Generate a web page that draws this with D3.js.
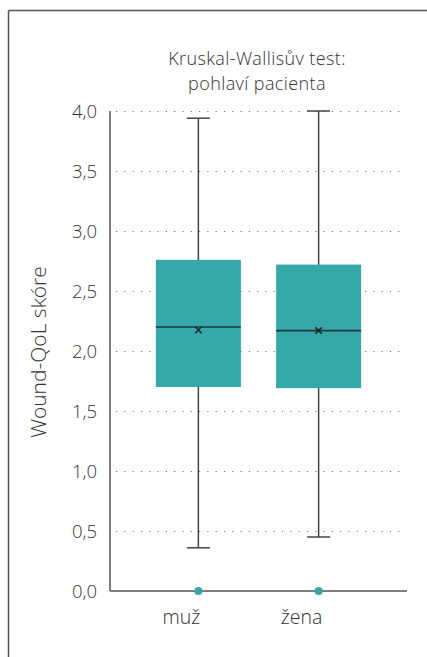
<!DOCTYPE html>
<html><head><meta charset="utf-8">
<script src="https://cdn.jsdelivr.net/npm/d3@7"></script>
<style>
body{margin:0;background:#fff;}
text{font-family:"Open Sans","Noto Sans",sans-serif;font-weight:300;fill:#333;}
</style></head>
<body>
<svg id="c" width="427" height="657"></svg>
<script>
const categories = ["muž", "žena"];
const whiskerLow  = [0.36, 0.45];
const q1          = [1.70, 1.69];
const median      = [2.20, 2.17];
const mean        = [2.175, 2.17];
const q3          = [2.76, 2.72];
const whiskerHigh = [3.94, 4.00];
const outliers    = [[0], [0]];
const yTicks      = [0, 0.5, 1, 1.5, 2, 2.5, 3, 3.5, 4];
const titleLines  = ["Kruskal-Wallisův test:", "pohlaví pacienta"];
const yLabel      = "Wound-QoL skóre";

const svg = d3.select("#c");
const teal = "#35a9aa", axisCol = "#555";

// frame
svg.append("line").attr("x1",8.5).attr("x2",427).attr("y1",10.5).attr("y2",10.5).attr("stroke",axisCol).attr("stroke-width",1.5);
svg.append("line").attr("x1",8.5).attr("x2",8.5).attr("y1",10.5).attr("y2",657).attr("stroke",axisCol).attr("stroke-width",1.5);

const y = d3.scaleLinear().domain([0,4]).range([591,111]);
const x = d3.scalePoint().domain(categories).range([110,407]).padding(0.735);
const boxW = 85, capW = 23;

// grid
svg.append("g").selectAll("line").data(yTicks.filter(d=>d>0)).join("line")
  .attr("x1",116).attr("x2",400).attr("y1",d=>y(d)+0.5).attr("y2",d=>y(d)+0.5)
  .attr("stroke","#777").attr("stroke-width",1.2).attr("stroke-dasharray","1.2,7.1");

// y tick labels
const fmt = d3.format(".1f");
svg.append("g").selectAll("text").data(yTicks).join("text")
  .attr("x",97).attr("y",d=>y(d)).attr("dy","0.36em").attr("text-anchor","end")
  .attr("font-size",18.5).text(d=>fmt(d).replace(".",","));

const data = categories.map((c,i)=>({c,i}));
const g = svg.append("g");
data.forEach(({c,i})=>{
  const cx = x(c);
  g.append("line").attr("x1",cx).attr("x2",cx).attr("y1",y(whiskerHigh[i])).attr("y2",y(whiskerLow[i])).attr("stroke","#444").attr("stroke-width",1.5);
  [whiskerHigh[i], whiskerLow[i]].forEach(v=>{
    g.append("line").attr("x1",cx-capW/2).attr("x2",cx+capW/2).attr("y1",y(v)).attr("y2",y(v)).attr("stroke","#444").attr("stroke-width",1.5);
  });
  g.append("rect").attr("x",cx-boxW/2).attr("width",boxW).attr("y",y(q3[i])).attr("height",y(q1[i])-y(q3[i])).attr("fill",teal);
  g.append("line").attr("x1",cx-boxW/2).attr("x2",cx+boxW/2).attr("y1",y(median[i])).attr("y2",y(median[i])).attr("stroke","#1f3b3c").attr("stroke-width",1.6);
  const my = y(mean[i]), s=3.2;
  g.append("path").attr("d",`M${cx-s},${my-s}L${cx+s},${my+s}M${cx-s},${my+s}L${cx+s},${my-s}`).attr("stroke","#222").attr("stroke-width",1.5);
});

// axes lines
svg.append("line").attr("x1",110).attr("x2",110).attr("y1",y(4)).attr("y2",y(0)).attr("stroke",axisCol).attr("stroke-width",1.5);
svg.append("line").attr("x1",110).attr("x2",407).attr("y1",y(0)).attr("y2",y(0)).attr("stroke",axisCol).attr("stroke-width",1.5);

// outliers
data.forEach(({c,i})=>{
  outliers[i].forEach(v=>{
    svg.append("circle").attr("cx",x(c)).attr("cy",y(v)).attr("r",4).attr("fill",teal);
  });
});

// x labels
svg.append("g").selectAll("text").data(categories).join("text")
  .attr("x",d=>x(d)-17).attr("y",624).attr("text-anchor","middle").attr("font-size",19.5).text(d=>d);

// title
svg.append("g").selectAll("text").data(titleLines).join("text")
  .attr("x",257).attr("y",(d,i)=>65+i*24.8).attr("text-anchor","middle")
  .attr("font-size",18).attr("letter-spacing",0.4).text(d=>d);

// y label
svg.append("text").attr("transform","translate(46,352) rotate(-90)").attr("text-anchor","middle").attr("font-size",21).text(yLabel);
</script>
</body></html>
